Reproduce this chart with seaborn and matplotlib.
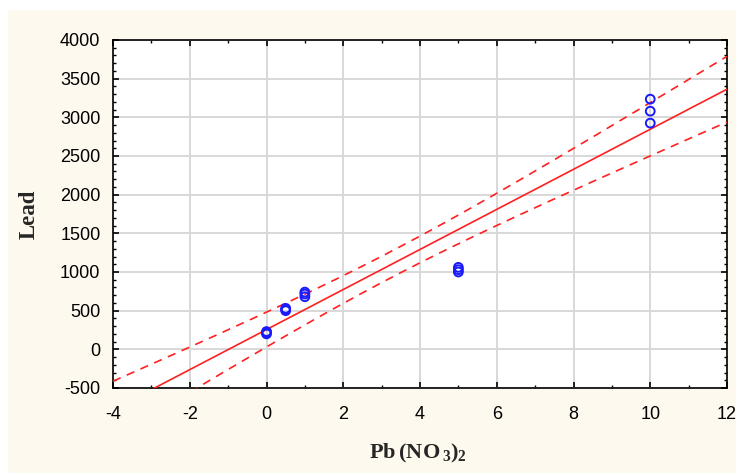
import numpy as np
import pandas as pd
import matplotlib
matplotlib.use("Agg")
import matplotlib.pyplot as plt
from matplotlib.patches import Rectangle
from matplotlib.ticker import MultipleLocator
import seaborn as sns

# Measured lead response for each Pb(NO3)2 level (triplicates)
dose = [0, 0, 0, 0.5, 0.5, 0.5, 1, 1, 1, 5, 5, 5, 10, 10, 10]
lead = [200, 215, 230, 500, 515, 530, 680, 715, 740, 1000, 1030, 1060, 2925, 3080, 3235]

x_ticks = [-4, -2, 0, 2, 4, 6, 8, 10, 12]
y_ticks = [-500, 0, 500, 1000, 1500, 2000, 2500, 3000, 3500, 4000]

df = pd.DataFrame({"dose": dose, "lead": lead})

# Ordinary least squares fit with 95% confidence band for the mean
x = np.asarray(dose, float)
y = np.asarray(lead, float)
n = len(x)
slope, intercept = np.polyfit(x, y, 1)
resid = y - (slope * x + intercept)
s = np.sqrt(np.sum(resid ** 2) / (n - 2))
sxx = np.sum((x - x.mean()) ** 2)
t_crit = 2.160  # t(0.975, 13)
xg = np.linspace(x_ticks[0], x_ticks[-1], 200)
yg = slope * xg + intercept
half = t_crit * s * np.sqrt(1.0 / n + (xg - x.mean()) ** 2 / sxx)
fit = pd.DataFrame({"x": xg, "fit": yg, "lo": yg - half, "hi": yg + half})

sns.set_style("white")
plt.rcParams["font.family"] = ["Liberation Sans", "DejaVu Sans"]
plt.rcParams["axes.unicode_minus"] = False
plt.rcParams["mathtext.fontset"] = "custom"
plt.rcParams["mathtext.bf"] = "Liberation Serif:bold"
plt.rcParams["mathtext.rm"] = "Liberation Serif:bold"

fig = plt.figure(figsize=(7.36, 4.73), dpi=100)
fig.patch.set_facecolor("white")
fig.patches.append(Rectangle((8 / 736, 0), 1, 1 - 10 / 473, transform=fig.transFigure,
                             facecolor="#fef9ee", edgecolor="none", zorder=-10))

ax = fig.add_axes([113 / 736, 1 - 388 / 473, 614 / 736, 348 / 473])
ax.set_facecolor("white")

sns.lineplot(data=fit, x="x", y="fit", ax=ax, color="#ff2020", lw=1.2, zorder=3)
sns.lineplot(data=fit, x="x", y="lo", ax=ax, color="#ff2020", lw=1.2,
             linestyle=(0, (5, 4)), zorder=3)
sns.lineplot(data=fit, x="x", y="hi", ax=ax, color="#ff2020", lw=1.2,
             linestyle=(0, (5, 4)), zorder=3)
sns.scatterplot(data=df, x="dose", y="lead", ax=ax, marker="o", s=40,
                facecolor="none", edgecolor="#1a1aff", linewidth=1.4, zorder=4)

ax.set_xlim(x_ticks[0], x_ticks[-1])
ax.set_ylim(y_ticks[0], y_ticks[-1])
ax.set_xticks(x_ticks)
ax.set_yticks(y_ticks)
ax.xaxis.set_minor_locator(MultipleLocator(1))
ax.yaxis.set_minor_locator(MultipleLocator(100))
ax.grid(True, which="major", color="#d8d8d8", lw=1.4)
ax.set_axisbelow(True)
for sp in ax.spines.values():
    sp.set_color("black")
    sp.set_linewidth(1.2)
ax.tick_params(which="both", direction="in", top=True, right=True,
               bottom=True, left=True, colors="black", labelsize=13)
ax.tick_params(which="major", length=4, width=1.2)
ax.tick_params(which="minor", length=2.5, width=1)
ax.tick_params(axis="x", which="major", pad=13)
ax.tick_params(axis="y", which="major", pad=9)

ax.set_xlabel(r"$\mathbf{Pb\,(NO_{\,3})_2}$", fontsize=16)
ax.xaxis.set_label_coords(0.497, -(453 - 388) / 348)
ax.xaxis.label.set_va("center")
ax.set_ylabel("Lead", fontsize=16.5, fontweight="bold", family=["Liberation Serif"])
ax.yaxis.set_label_coords(-(113 - 29) / 614, 0.5)
ax.yaxis.label.set_va("center")

fig.savefig("out.png", dpi=100, facecolor=fig.get_facecolor())
